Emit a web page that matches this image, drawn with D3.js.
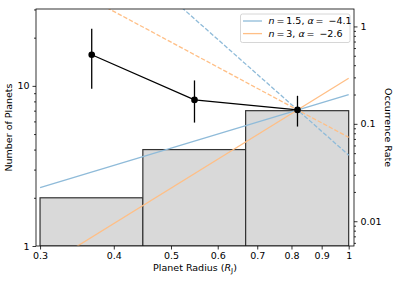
<!DOCTYPE html>
<html>
<head>
<meta charset="utf-8">
<script src="https://cdn.jsdelivr.net/npm/d3@7"></script>
<style>
  body { margin: 0; background: #fff; }
  text { font-family: "DejaVu Sans", sans-serif; fill: #000; }
</style>
</head>
<body>
<svg width="399" height="282"></svg>
<script>
// histogram of planets per radius bin (left axis)
var binEdges = [0.3, 0.448, 0.669, 1.0];
var counts = [2, 4, 7];

// occurrence rate points with error bars (right axis)
var radiusMid = [0.367, 0.548, 0.819];
var rate = [0.512, 0.176, 0.139];
var rateLo = [0.229, 0.103, 0.0938];
var rateHi = [0.947, 0.279, 0.194];

// power-law model lines, values at R = 0.3 and R = 1
var modelX = [0.3, 1.0];
var blueRise = [0.0221, 0.200];
var orangeRise = [0.00322, 0.294];
var blueFall = [30.2, 0.0477];
var orangeFall = [3.63, 0.0727];

var xTicks = [0.3, 0.4, 0.5, 0.6, 0.7, 0.8, 0.9, 1];
var leftMajor = [1, 10];
var leftMinor = [2, 3, 4, 5, 6, 7, 8, 9, 20, 30];
var rightMajor = [0.01, 0.1, 1];
var rightMinor = [0.006, 0.007, 0.008, 0.009, 0.02, 0.03, 0.04, 0.05, 0.06, 0.07, 0.08, 0.09,
                  0.2, 0.3, 0.4, 0.5, 0.6, 0.7, 0.8, 0.9];

// plot box (window.top is read-only, so no "top" var here)
var pL = 36, pR = 354, pT = 9, pB = 246;

var svg = d3.select("svg");

var x = d3.scaleLog().domain([0.2953, 1.021]).range([pL, pR]);
var yL = d3.scaleLog().domain([1, 30.2]).range([pB, pT]);
var yR = d3.scaleLog().domain([0.00557, 1.51]).range([pB, pT]);

svg.append("clipPath").attr("id", "plot")
  .append("rect")
  .attr("x", pL).attr("y", pT)
  .attr("width", pR - pL).attr("height", pB - pT);

var g = svg.append("g").attr("clip-path", "url(#plot)");

// bars
g.selectAll("rect.bar")
  .data(counts)
  .enter().append("rect")
  .attr("class", "bar")
  .attr("x", function (d, i) { return x(binEdges[i]); })
  .attr("width", function (d, i) { return x(binEdges[i + 1]) - x(binEdges[i]); })
  .attr("y", function (d) { return yL(d); })
  .attr("height", function (d) { return pB - yL(d); })
  .attr("fill", "#d9d9d9")
  .attr("stroke", "#333")
  .attr("stroke-width", 1.2);

// model lines
var line = d3.line()
  .x(function (d) { return x(d[0]); })
  .y(function (d) { return yR(d[1]); });

var models = [
  { v: blueRise, c: "#8fbbd9", dash: null },
  { v: orangeRise, c: "#ffbf86", dash: null },
  { v: blueFall, c: "#8fbbd9", dash: "4.4,1.9" },
  { v: orangeFall, c: "#ffbf86", dash: "4.4,1.9" }
];

models.forEach(function (m) {
  g.append("path")
    .datum(d3.zip(modelX, m.v))
    .attr("d", line)
    .attr("fill", "none")
    .attr("stroke", m.c)
    .attr("stroke-width", 1.3)
    .attr("stroke-dasharray", m.dash);
});

// points, error bars
var pts = d3.zip(radiusMid, rate);
g.append("path")
  .datum(pts)
  .attr("d", line)
  .attr("fill", "none")
  .attr("stroke", "#000")
  .attr("stroke-width", 1.3);

g.selectAll("line.err")
  .data(radiusMid)
  .enter().append("line")
  .attr("x1", function (d) { return x(d); })
  .attr("x2", function (d) { return x(d); })
  .attr("y1", function (d, i) { return yR(rateLo[i]); })
  .attr("y2", function (d, i) { return yR(rateHi[i]); })
  .attr("stroke", "#000")
  .attr("stroke-width", 1.3);

g.selectAll("circle")
  .data(pts)
  .enter().append("circle")
  .attr("cx", function (d) { return x(d[0]); })
  .attr("cy", function (d) { return yR(d[1]); })
  .attr("r", 3.3)
  .attr("fill", "#000");

// axes
function styleAxis(sel) {
  sel.select(".domain").remove();
  sel.selectAll("line").attr("stroke", "#000").attr("stroke-width", 0.8);
  sel.selectAll("text").style("font-size", "9.5px").style("font-family", "DejaVu Sans");
}

var fmtX = function (d) { return d === 1 ? "1" : d3.format(".1f")(d); };

svg.append("g")
  .attr("transform", "translate(0," + pB + ")")
  .call(d3.axisBottom(x).tickValues(xTicks).tickFormat(fmtX).tickSize(3.5).tickPadding(3))
  .call(styleAxis);

svg.append("g")
  .attr("transform", "translate(" + pL + ",0)")
  .call(d3.axisLeft(yL).tickValues(leftMajor).tickFormat(d3.format("d")).tickSize(3.5).tickPadding(3))
  .call(styleAxis);
svg.append("g")
  .attr("transform", "translate(" + pL + ",0)")
  .call(d3.axisLeft(yL).tickValues(leftMinor).tickFormat("").tickSize(2))
  .call(styleAxis);

svg.append("g")
  .attr("transform", "translate(" + pR + ",0)")
  .call(d3.axisRight(yR).tickValues(rightMajor).tickFormat(function (d) { return d >= 1 ? "1" : String(d); }).tickSize(3.5).tickPadding(3))
  .call(styleAxis);
svg.append("g")
  .attr("transform", "translate(" + pR + ",0)")
  .call(d3.axisRight(yR).tickValues(rightMinor).tickFormat("").tickSize(2))
  .call(styleAxis);

// frame
svg.append("rect")
  .attr("x", pL).attr("y", pT)
  .attr("width", pR - pL).attr("height", pB - pT)
  .attr("fill", "none")
  .attr("stroke", "#000")
  .attr("stroke-width", 0.8);

// axis labels
var xl = svg.append("text")
  .attr("x", (pL + pR) / 2).attr("y", 271)
  .attr("text-anchor", "middle")
  .style("font-size", "9.5px");
xl.append("tspan").text("Planet Radius (");
xl.append("tspan").style("font-style", "italic").text("R");
xl.append("tspan").attr("dy", 2).style("font-size", "7px").text("J");
xl.append("tspan").attr("dy", -2).text(")");

svg.append("text")
  .attr("transform", "translate(12," + ((pT + pB) / 2) + ") rotate(-90)")
  .attr("text-anchor", "middle")
  .style("font-size", "9.5px")
  .text("Number of Planets");

svg.append("text")
  .attr("transform", "translate(385," + ((pT + pB) / 2) + ") rotate(90)")
  .attr("text-anchor", "middle")
  .style("font-size", "9.5px")
  .text("Occurrence Rate");

// legend
var lg = svg.append("g").attr("transform", "translate(240.5,14)");
lg.append("rect")
  .attr("width", 109.5).attr("height", 28.5)
  .attr("rx", 2)
  .attr("fill", "#fff").attr("fill-opacity", 0.8)
  .attr("stroke", "#ccc").attr("stroke-width", 0.8);

var legendItems = [
  { c: "#8fbbd9", n: "1.5", a: "4.1" },
  { c: "#ffbf86", n: "3", a: "2.6" }
];
legendItems.forEach(function (d, i) {
  var yy = 7 + i * 12.6;
  lg.append("line")
    .attr("x1", 2.5).attr("x2", 21.5)
    .attr("y1", yy).attr("y2", yy)
    .attr("stroke", d.c).attr("stroke-width", 1.3);
  var t = lg.append("text")
    .attr("x", 28).attr("y", yy + 3.3)
    .style("font-size", "9.5px");
  t.append("tspan").style("font-style", "italic").text("n");
  t.append("tspan").text("\u2009=\u2009" + d.n + ", ");
  t.append("tspan").style("font-style", "italic").text("\u03b1");
  t.append("tspan").text("\u2009=\u2009 \u2212" + d.a);
});
</script>
</body>
</html>
